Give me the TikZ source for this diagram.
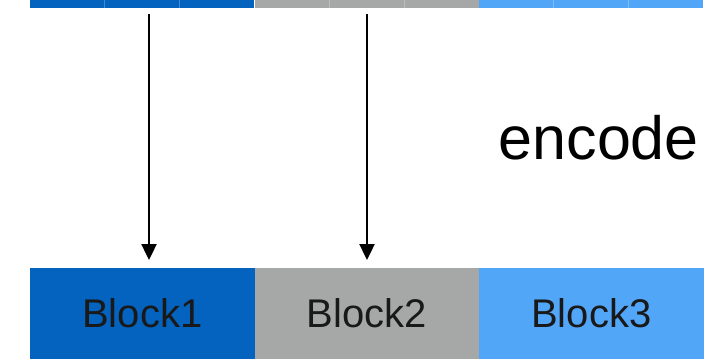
\documentclass[tikz,border=0pt]{standalone}
\usepackage{fontspec}
\setmainfont{Liberation Sans}
\usetikzlibrary{arrows.meta, positioning}

\definecolor{blockdark}{HTML}{0463BF}
\definecolor{blockgray}{HTML}{A6A8A7}
\definecolor{blocklight}{HTML}{52A6F8}

\begin{document}
\begin{tikzpicture}[x=1pt, y=1pt,
		block/.style={minimum width=224.5pt, minimum height=91pt, inner sep=0pt, outer sep=0pt, font=\fontsize{40}{48}\selectfont, text=black!90},
		cell/.style={minimum width=74.8pt, minimum height=8pt, inner sep=0pt, outer sep=0pt},
		split/.style={white, opacity=0.25, line width=1pt},
		encarrow/.style={-{Triangle[length=16pt, width=15pt]}, line width=2.4pt, shorten >=8pt}]
		\useasboundingbox (0,0) rectangle (711,359);

		% Blocks
		\node[block, fill=blockdark, anchor=south west] (block1) at (30,0) {Block1};
		\node[block, fill=blockgray, right=0pt of block1] (block2) {Block2};
		\node[block, fill=blocklight, right=0pt of block2] (block3) {Block3};

		% Input strip
		\foreach \c [count=\i from 0] in {blockdark, blockgray, blocklight} {
			\node[cell, fill=\c, anchor=north west] (strip\i) at (30+224.5*\i, 359) {};
			\node[cell, fill=\c, right=0pt of strip\i] (stripb\i) {};
			\node[cell, fill=\c, right=0pt of stripb\i] (stripc\i) {};
			\draw[split] (stripb\i.north west) -- (stripb\i.south west);
			\draw[split] (stripc\i.north west) -- (stripc\i.south west);
		}

		% Arrows
		\coordinate (from1) at (149,345);
		\coordinate (from2) at (367,345);
		\draw[encarrow] (from1) -- (from1 |- block1.north);
		\draw[encarrow] (from2) -- (from2 |- block2.north);

		\node[font=\fontsize{61}{70}\selectfont, anchor=base east, inner sep=0pt] (enc) at (699,199) {encode};
	\end{tikzpicture}
\end{document}
